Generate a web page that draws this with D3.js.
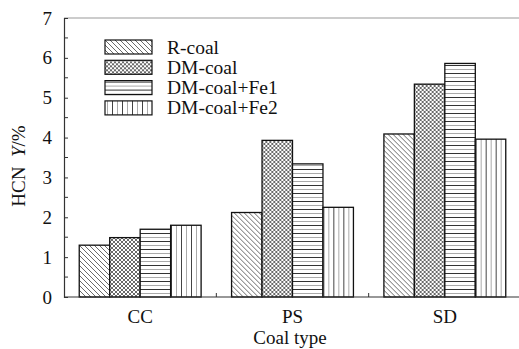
<!DOCTYPE html>
<html>
<head>
<meta charset="utf-8">
<script src="https://cdn.jsdelivr.net/npm/d3@7"></script>
<style>
  body { margin: 0; background: #fff; }
  svg { display: block; }
  text { font-family: "Liberation Serif", "Times New Roman", serif; fill: #111; }
</style>
</head>
<body>
<svg id="chart" width="519" height="349"></svg>
<script>
// Coal types and HCN yield (%) for each sample treatment
const categories = ["CC", "PS", "SD"];
const seriesNames = ["R-coal", "DM-coal", "DM-coal+Fe1", "DM-coal+Fe2"];
const rCoal   = [1.30, 2.12, 4.09];
const dmCoal  = [1.49, 3.93, 5.34];
const dmFe1   = [1.70, 3.34, 5.86];
const dmFe2   = [1.80, 2.25, 3.96];
const yTicks  = [0, 1, 2, 3, 4, 5, 6, 7];

const seriesValues = [rCoal, dmCoal, dmFe1, dmFe2];

const svg = d3.select("#chart");
const W = 519, H = 349;
const margin = { left: 64, top: 18, bottom: 52 };
const plotRight = 521;
const fs = 19;

// hatch patterns, one per series
const defs = svg.append("defs");
function pattern(id, w, h, draw) {
  const p = defs.append("pattern").attr("id", id)
    .attr("patternUnits", "userSpaceOnUse").attr("width", w).attr("height", h);
  p.append("rect").attr("width", w).attr("height", h).attr("fill", "#fff");
  draw(p);
}
pattern("pDiag", 5, 5, p => {
  p.append("path").attr("d", "M-1,-1 L6,6 M-1,4 L1,6 M4,-1 L6,1")
    .attr("stroke", "#444").attr("stroke-width", 0.8);
});
pattern("pCross", 4, 4, p => {
  p.append("path").attr("d", "M0,0 L4,4 M4,0 L0,4")
    .attr("stroke", "#444").attr("stroke-width", 0.8);
});
pattern("pHoriz", 8, 8, p => {
  p.append("line").attr("x1", 0).attr("x2", 8).attr("y1", 1.5).attr("y2", 1.5)
    .attr("stroke", "#333").attr("stroke-width", 1);
  p.append("line").attr("x1", 0).attr("x2", 8).attr("y1", 5.5).attr("y2", 5.5)
    .attr("stroke", "#aaa").attr("stroke-width", 1);
});
pattern("pVert", 10, 10, p => {
  p.append("line").attr("y1", 0).attr("y2", 10).attr("x1", 2.5).attr("x2", 2.5)
    .attr("stroke", "#aaa").attr("stroke-width", 1);
  p.append("line").attr("y1", 0).attr("y2", 10).attr("x1", 7.5).attr("x2", 7.5)
    .attr("stroke", "#444").attr("stroke-width", 1);
});
const fills = ["url(#pDiag)", "url(#pCross)", "url(#pHoriz)", "url(#pVert)"];

const x0 = d3.scaleBand().domain(categories)
  .range([margin.left, plotRight]).paddingInner(0).paddingOuter(0);
const x1 = d3.scaleBand().domain(seriesNames)
  .range([0, x0.bandwidth()]).paddingInner(0).paddingOuter(0.5);
const y = d3.scaleLinear().domain([0, 7]).range([H - margin.bottom, margin.top]);

// top border line
svg.append("line")
  .attr("x1", margin.left).attr("x2", W)
  .attr("y1", y(7)).attr("y2", y(7))
  .attr("stroke", "#999").attr("stroke-width", 1.2);

// bars
const groups = svg.append("g").selectAll("g").data(categories).join("g")
  .attr("transform", d => `translate(${x0(d)},0)`);
groups.selectAll("rect")
  .data((c, ci) => seriesNames.map((s, si) => ({ s, si, v: seriesValues[si][ci] })))
  .join("rect")
  .attr("x", d => x1(d.s))
  .attr("width", x1.bandwidth())
  .attr("y", d => y(d.v))
  .attr("height", d => y(0) - y(d.v))
  .attr("fill", d => fills[d.si])
  .attr("stroke", "#111").attr("stroke-width", 1.3);

// y axis with inward ticks and half-unit minor ticks
const yAxis = d3.axisLeft(y).tickValues(yTicks).tickSize(-4).tickPadding(12)
  .tickFormat(d3.format("d"));
const gy = svg.append("g").attr("transform", `translate(${margin.left},0)`).call(yAxis);
gy.selectAll(".tick text").attr("font-size", fs).attr("fill", "#111");
gy.selectAll(".tick line").attr("stroke", "#333");
gy.select(".domain").attr("stroke", "#333").attr("stroke-width", 1.2);
const minor = d3.range(0.5, 7, 1);
gy.selectAll(".minor").data(minor).join("line").attr("class", "minor")
  .attr("x1", 0).attr("x2", 4).attr("y1", d => y(d)).attr("y2", d => y(d))
  .attr("stroke", "#333");

// x axis
const gx = svg.append("g").attr("transform", `translate(0,${y(0)})`);
gx.append("line").attr("x1", margin.left).attr("x2", W)
  .attr("stroke", "#333").attr("stroke-width", 1.2);
gx.selectAll(".sep").data(categories.slice(1)).join("line").attr("class", "sep")
  .attr("x1", d => x0(d)).attr("x2", d => x0(d)).attr("y1", 0).attr("y2", -4)
  .attr("stroke", "#333");
gx.selectAll(".lab").data(categories).join("text").attr("class", "lab")
  .attr("x", d => x0(d) + x0.bandwidth() / 2).attr("y", 26)
  .attr("text-anchor", "middle").attr("font-size", fs).text(d => d);

// axis titles
svg.append("text").attr("x", 290).attr("y", 344)
  .attr("text-anchor", "middle").attr("font-size", fs).text("Coal type");

const yt = svg.append("text")
  .attr("transform", `translate(25,166) rotate(-90)`)
  .attr("text-anchor", "middle").attr("font-size", fs);
yt.append("tspan").text("HCN\u00a0\u00a0");
yt.append("tspan").attr("font-style", "italic").text("Y");
yt.append("tspan").text("/%");

// legend
const legend = svg.append("g").attr("transform", "translate(105,40)");
const rows = legend.selectAll("g").data(seriesNames).join("g")
  .attr("transform", (d, i) => `translate(0,${i * 20.3})`);
rows.append("rect").attr("width", 47).attr("height", 14)
  .attr("fill", (d, i) => fills[i]).attr("stroke", "#111").attr("stroke-width", 1.2);
rows.append("text").attr("x", 62).attr("y", 13.5).attr("font-size", 19.5).text(d => d);
</script>
</body>
</html>
